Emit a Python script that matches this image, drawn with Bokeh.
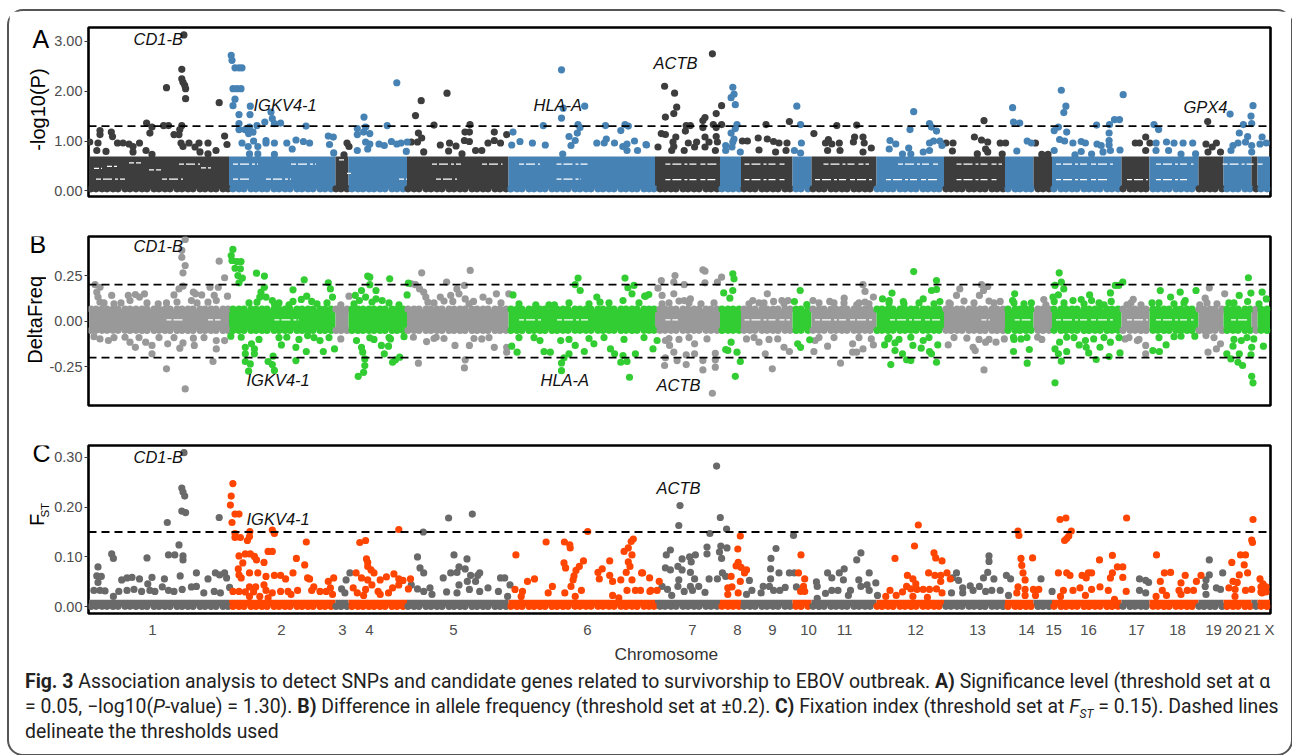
from math import pi
from bisect import bisect_right
from bokeh.plotting import figure
from bokeh.layouts import column, row
from bokeh.core.properties import value
from bokeh.models import Div, FixedTicker, Label, PrintfTickFormatter, Range1d, Span, Title
from bokeh.embed import file_html
from bokeh.resources import INLINE

# Chromosomes: cumulative position of the boundaries (arbitrary genome units)
chrom_bounds = [0,140,246.5,259.5,318,419.5,566,631,652,703.5,722.5,787.5,855,916,944.5,963,1032.5,1060.5,1109.5,1134.5,1162.5,1168.5,1181]
chrom_labels = ["1","2","3","4","5","6","7","8","9","10","11","12","13","14","15","16","17","18","19","20","21","X"]
chrom_label_pos = [63.5,192.5,253.5,280.5,364.5,498.5,603.5,648.5,683.5,719.5,755.5,826.5,888.5,937.5,964.5,999.5,1047.5,1088.5,1124.5,1144.5,1163.5,1180.5]

# Dense mass of SNPs in each panel (low, high), and SNPs seen along its rim
band_A = (0.04, 0.69)
band_B = (-0.05, 0.065)
band_C = (0.001, 0.014)
rim_A = [0.04]
rim_B = [0.066, -0.05]
rim_C = [0.001]
rim_x = [2,7,13,18,24,29,36,41,47,53,58,65,70,76,81,88,93,99,104,111,116,122,127,134,139,144,150,155,162,167,173,178,185,190,196,201,208,213,219,224,231,236,242,247,252,258,263,269,274,280,285,291,296,303,308,314,319,325,330,337,342,348,353,360,365,371,376,383,388,394,399,406,411,417,422,428,433,440,445,451,456,463,468,474,479,486,491,497,502,509,514,520,525,532,537,543,548,555,560,565,571,576,582,587,594,599,605,610,617,622,628,633,639,644,650,655,661,666,673,678,684,689,696,701,707,712,719,724,730,735,742,747,753,758,765,770,776,781,788,793,799,804,811,816,822,827,834,839,845,850,857,862,868,873,880,885,891,896,903,908,914,919,926,931,937,942,949,954,960,965,972,977,983,988,995,1000,1006,1011,1018,1023,1029,1034,1041,1046,1052,1057,1064,1069,1075,1080,1087,1092,1098,1103,1110,1115,1121,1126,1133,1138,1144,1149,1156,1161,1167,1172,1178]

# Empty stretches inside the mass: (from, to, level)
gaps_A = [(90,111,.535),(343,372,.535),(393,413.5,.535),(430,451,.535),(467.5,501,.535),(144,169,.535),(202,227,.535),
          (576.4,630.5,.535),(655.5,697,.535),(734.5,780,.535),(809,851,.535),(867.5,913,.535),(967,1025.5,.535),(1067,1104.5,.535),(1133.6,1175,.535),
          (7,36,.235),(73,94,.235),(310,318,.235),(347,368,.235),(144,160,.235),(177,202,.235),(467.5,492,.235),
          (576.4,626.3,.225),(655.5,697,.225),(726,784.4,.225),(797,851,.225),(867.5,909,.225),(967,1021,.225),(1038,1059,.225),(1067,1100,.225),
          (18,28,.49),(40,52,.56),(5,13,.45),(60,72,.42),(112,122,.46),(258,262,.35),(250,256,.62)]
gaps_B = [(77.5,94,.007),(119,131.5,.007),(185.4,210,.007),(576.4,589,.007),(655.5,701,.007),(726,784.4,.007),(801,851,.007),
          (892.5,901,.007),(925.7,942.4,.007),(967,1025.5,.007),(1038,1059,.007),(1067,1104.5,.007),(1142,1158.6,.007),(430,452,.007),(468,500,.007)]
gaps_C = []

thresholds_A = [1.30]
thresholds_B = [0.2, -0.2]
thresholds_C = [0.15]

# Panel A, -log10(P)
A_dark = [(94.9,3.13),(92.8,2.44),(77.5,2.07),(92.8,2.25),(94,2.18),(95.7,2.12),(96.6,2.05),(96.6,1.85),(130.2,1.77),(57.6,1.36),(63,1.28),(60.9,1.16),(74.6,1.31),(79.5,1.31),(92.8,1.31),(90.8,1.23),(85,1.13),(90,1.13),(11,1.21),(11,1.13),(22.3,1.18),(23.5,1.09),(0.7,.98),(9,.96),(28.5,.96),(34,.96),(40,.94),(44,.89),(50.5,.96),(92,.96),(100,.96),(110,.96),(119,.96),(94,.89),(106,.88),(135.6,1.10),(138,.93),(7.8,.81),(17,.79),(57,.81),(111,.78),(44,.78),(63,.73),(127,.81),(119,.74),
(258,.96),(260,.89),(255,.72),
(358,1.96),(332.2,1.81),(326.5,1.51),(345,1.32),(381,1.33),(329.4,1.16),(332.7,1.06),(322.3,.98),(328.5,.98),(351.3,.92),(360.5,.96),(367,.9),(376,1.18),(380.4,1.18),(375.4,1.01),(380.4,.99),(405.3,1.18),(417.7,1.13),(405.3,1.01),(399,.96),(411.5,.96),(359.6,.8),(373,.74),(386.6,.81),(392.8,.81),(334.7,.78),
(623.4,2.75),(575.6,2.10),(585.6,1.96),(587.7,1.68),(584.8,1.55),(576.4,1.48),(632.6,1.71),(627.2,1.55),(616,1.47),(613.9,1.41),(597.2,1.31),(601.4,1.31),(613.9,1.27),(624.3,1.33),(632.6,1.33),(627.2,1.27),(596.4,1.2),(572.3,1.15),(576.4,1.13),(586.8,1.08),(616,1.08),(627.2,1.09),(569,.88),(584,.98),(599.3,.96),(607.6,.98),(620,.98),(628.4,.98),(605.6,.88),(616,.88),(582.7,.81),(595.2,.81),(626.4,.81),(584.8,.89),
(677,1.33),(700.4,1.39),(669.2,1.06),(653.4,1.0),(658.4,1.0),(678.3,1.04),(684.6,.99),(690,.96),(698,.96),(670,.82),(686.6,.78),(697,.81),
(724.9,1.15),(747.8,1.31),(767.7,1.32),(739.4,1.03),(736.5,.96),(742.8,.94),(750.3,.96),(765.6,1.08),(774,1.08),(764.4,.98),(775.2,.96),(782.3,.86),(751,.81),(738.6,.81),(774,.78),
(895,1.41),(885.4,1.08),(892.5,1.02),(898.7,.98),(857,.96),(864,.96),(911.2,.96),(916.6,.96),(896.6,.84),(898.7,.78),(888.3,.74),(863.4,.8),(913.2,.74),
(946.5,.96),(959,.73),(952.8,.73),
(1056.7,1.08),(1046.3,.96),(1050.5,.96),(1060.9,.96),(1056.7,.81),
(1118.7,1.39),(1117,.94),(1127.4,.96),(1123.2,.88),(1131.5,.78),(1119,.78)]
A_blue = [(142.2,2.72),(143,2.62),(146,2.47),(150,2.47),(153,2.47),(144,2.05),(148,2.05),(152,2.05),(146,1.84),(144,1.71),(161.3,1.70),(150,1.53),(161,1.53),(182,1.58),(183.3,1.45),(150,1.35),(150,1.23),(156,1.23),(160.5,1.28),(168,1.31),(175.8,1.38),(185.4,1.35),(191.6,1.36),(217,1.30),(159.6,1.15),(164,1.18),(153,.96),(164.6,1.0),(177,1.01),(159.2,.89),(168.8,.89),(185.4,.96),(177,.96),(197.8,.96),(207,1.02),(203.2,.84),(214.4,.99),(220.6,.96),(239.3,1.10),(244.3,1.08),(240.5,.93),(244.7,.76),(160.5,.74),(168.8,.74),(185.4,.73),
(307.8,2.17),(275,1.48),(298.2,1.31),(268.3,1.25),(276.6,1.28),(268.3,1.13),(280.8,1.15),(274.6,1.18),(276.6,.98),(280.8,.94),(290,.94),(295.3,.91),(302.4,.99),(307.8,.94),(312,.96),(318.2,.98),(317.3,.79),(278.7,.84),(268.3,.81),
(472.5,2.43),(474.2,1.66),(472.5,1.46),(495.7,1.70),(454.3,1.31),(489,1.33),(491,1.27),(516.5,1.31),(536,1.33),(539.3,1.3),(531.8,1.21),(424,1.18),(480,1.09),(488.3,1.16),(486.2,1.01),(482,.91),(422.7,.92),(431,.99),(443.4,.96),(456.3,.92),(507.8,.96),(517.3,1.04),(515.2,.96),(525.5,.96),(533.8,.89),(545.5,1.0),(538,.94),(557.5,.92),(473.7,.74),(548.5,.81),(538,.81),
(643.8,2.08),(645,1.94),(642.1,1.87),(646.3,1.73),(648,1.33),(646.3,1.25),(642.1,1.16),(645,1.04),(643.8,.98),(636.7,.91),(643,.88),(651.3,.78),(636.7,.81),
(707.8,1.70),(711.6,1.33),(712.4,.96),(705.4,.81),(711.6,.76),
(824.7,1.59),(821,1.23),(840.5,1.35),(842.5,1.28),(847.5,1.2),(801,1.01),(806.8,.94),(800.2,.84),(819.7,.86),(840.5,.96),(844.6,1.0),(850.9,1.0),(853,.91),(834.2,.78),(840.5,.81),(813.5,.74),(821.8,.74),
(923.6,1.67),(924.5,1.38),(930.7,1.36),(927.8,.8),(938.2,1.0),(942.4,.96),
(972.3,2.02),(976.9,1.70),(974.8,1.57),(969.4,1.28),(965.2,1.21),(977.7,1.18),(1007.6,1.32),(1020.5,1.33),(1025.5,1.43),(1030.5,1.43),(1020.1,1.16),(1034.2,1.93),(970.6,1.03),(975.6,1.0),(983.9,.96),(992.2,.99),(996.4,.96),(1008,.94),(1012.2,.91),(1020.1,1.01),(1020.1,.92),(1031,.82),(1021.4,.81),(1014,.78),(965.2,.81),(992.2,.79),(1002.6,.74),(986,.72),
(1065,1.33),(1069.6,1.23),(1067.1,.96),(1077.5,.98),(1085,.96),(1094.1,.96),(1103.7,.96),(1067,.81),(1092,.74),(1079.6,.81),(1106.6,.74),
(1141.1,1.54),(1164,1.71),(1162,1.5),(1154.4,1.33),(1162.7,1.35),(1150.3,1.16),(1158.6,1.09),(1144,.91),(1149,.96),(1156.5,.98),(1162.7,.91),(1173.1,1.08),(1171,.94),(1177.3,.96),(1142,.81),(1162.7,.78),(557,.93)]

# Panel B, difference in allele frequency
B_grey = [(96.2,.448),(92.8,.388),(92.8,.35),(96.2,.305),(94,.265),(130.2,.329),(135.6,.238),(6.1,.2),(11,.186),(7.8,.159),(9,.132),(22.7,.141),(39.3,.141),(46.4,.146),(55.5,.15),(41,.113),(50.5,.132),(11,.104),(85,.144),(90,.177),(94,.192),(104.4,.159),(106.5,.15),(112.7,.144),(102.4,.113),(121,.186),(129.3,.186),(125.2,.141),(138.5,.137),(127.3,.113),(119,.104),(77.5,.1),(69.2,.095),
(11,-.097),(19.4,-.106),(41,-.115),(46.4,-.143),(56.7,-.115),(63,-.133),(63,-.179),(78.7,-.124),(77.5,-.261),(96.2,-.371),(94,-.119),(90.8,-.148),(104.4,-.093),(105.3,-.133),(124,-.221),(127.3,-.106),(127.3,-.152),(135.6,-.106),(36,-.088),
(251.8,-.097),(251.8,.09),(260,.137),
(332.7,.265),(381.2,.278),(357.6,.214),(326.5,.2),(322.3,.205),(330.6,.177),(334.7,.159),(336.8,.132),(338.9,.104),(351.3,.132),(361.7,.141),(367.9,.177),(375.4,.196),(370,.15),(376.2,.122),(394,.132),(407.4,.15),(419.8,.15),(363.8,.108),(384.5,.108),
(329.4,-.23),(376.2,-.212),(375.4,-.256),(380.4,-.133),(337.6,-.112),(366,-.133),(405.3,-.143),(417.7,-.143),(417.7,-.17),(324.4,-.088),(392.8,-.097),(347.2,-.088),
(613.9,.282),(616,.274),(572.3,.223),(586,.25),(595.2,.2),(569,.181),(584.8,.214),(616,.21),(628.4,.214),(632.6,.241),(573.1,.141),(584.8,.15),(601.4,.122),(573.1,.095),(595.2,.113),
(576.4,-.106),(580.6,-.133),(576.4,-.201),(575.6,-.243),(584.8,-.17),(588.1,-.216),(597.2,-.185),(597.2,-.238),(605.6,-.179),(605.6,-.124),(613.9,-.216),(613.9,-.267),(623.4,-.395),(626.3,-.176),(626.3,-.212),(626.3,-.252),(618,-.097),
(678.3,.15),(663.8,.113),(670,.1),(684.6,.108),(692.9,.113),(699.1,.113),(657.5,-.097),(670,-.115),(676.2,-.179),(683.3,-.261),(695,-.143),(700.4,-.166),(688.7,-.097),
(774,.2),(776,.163),(755.2,.126),(724,.113),(740.7,.108),(767.7,.09),(784.4,.132),(776,.104),(726.1,-.106),(724.9,-.166),(738.6,-.137),(751.5,-.23),(763.6,-.124),(763.6,-.17),(767.7,-.17),(774,-.152),(784.4,-.13),(782.3,-.097),
(870.8,.177),(892.5,.2),(898.7,.19),(894.5,.168),(867.5,.141),(890.4,.141),(911.2,.108),(861.3,.095),(859.2,-.13),(884.1,-.143),(886.2,-.161),(895,-.267),(907,-.115),(896.6,-.115),(915.3,-.097),(877.9,-.093),
(954.8,.119),(956.9,.09),(952.8,-.1),(948.6,-.088),
(1044.2,.119),(1038,.09),(1056.7,-.179),(1036,-.097),(1056.7,-.133),(1048.4,-.106),
(1120.3,.183),(1116.2,.126),(1135.7,.15),(1110.8,.09),(1119,-.17),(1127.4,-.152),(1131.5,-.124),(1117,-.079),
(15,.1),(25,.095),(32,.1),(58,.1),(88,.105),(108,.1),(345,.1),(355,.11),(380,.095),(400,.11),(412,.1),(580,.1),(590,.11),(600,.1),(612,.095),(625,.1),(660,.095),(675,.1),(695,.095),(730,.1),(745,.1),(755,.1),(770,.1),(780,.095),(860,.1),(875,.11),(885,.1),(900,.11),(905,.1),(1042,.1),(1052,.09),(1118,.1),(1128,.095),
(5,-.085),(25,-.09),(50,-.09),(70,-.09),(85,-.09),(115,-.09),(345,-.095),(355,-.095),(385,-.095),(400,-.09),(580,-.095),(590,-.1),(600,-.09),(665,-.09),(680,-.1),(730,-.09),(745,-.09),(770,-.09),(865,-.09),(890,-.1),(900,-.1),(1040,-.09),(1050,-.1),(1125,-.09)]
B_green = [(143.9,.393),(142.2,.36),(143,.333),(148,.327),(152,.327),(146,.29),(151.4,.287),(148.9,.25),(153.4,.236),(150,.21),(167.5,.263),(175.4,.247),(175.4,.186),(172,.159),(170.8,.132),(177,.132),(183.3,.113),(168,.104),(215.2,.227),(204,.172),(239.3,.21),(241.4,.177),(217.7,.137),(212.3,.119),(222.7,.108),(243.5,.132),(204,.108),(185.4,.095),
(141.8,-.082),(152.2,-.088),(156.3,-.143),(162.5,-.124),(156.3,-.179),(165.4,-.152),(156.3,-.221),(161.3,-.234),(159.6,-.274),(165.4,-.179),(184.1,-.192),(179.1,-.221),(183.3,-.238),(185.4,-.27),(206.9,-.216),(192.4,-.13),(206.9,-.143),(217.3,-.166),(234.3,-.166),(245.5,-.152),(218.6,-.079),(197.8,-.088),(231,-.106),
(278.7,.247),(280.8,.241),(300.7,.232),(280.8,.2),(287,.168),(318.1,.144),(319.4,.208),(272.5,.168),(266.3,.141),(276.6,.132),(287,.122),(293.2,.113),(270.4,.113),
(269.2,-.302),(274.6,-.28),(275.8,-.243),(275.8,-.207),(273.7,-.17),(267.5,-.106),(272.5,-.143),(303.6,-.225),(306.5,-.212),(310.7,-.197),(295.3,-.179),(299.5,-.137),(292.4,-.133),(280.8,-.091),(301.5,-.097),
(489.1,.236),(486.2,.2),(491.2,.168),(536,.236),(545,.196),(538.9,.183),(543,.15),(507.8,.132),(446.8,.09),(424,.144),(556.7,.137),(465.4,.09),(534,.113),(511,.104),
(472.5,-.271),(472.5,-.229),(475,-.201),(428.1,-.17),(422.7,-.137),(455,-.166),(461.3,-.17),(480,-.179),(495.3,-.166),(486.2,-.133),(525.6,-.179),(531.8,-.225),(538,-.221),(540.5,-.307),(534,-.188),(546.4,-.179),(451,-.106),(471.7,-.106),(504.9,-.124),(521.5,-.152),
(555.7,.137),(559.8,.146),(564,-.152),(568.1,-.106),
(643.8,.26),(645,.232),(643.8,.168),(634.7,.155),(640.9,.126),(648,-.17),(651.3,-.221),(646.3,-.302),(636.7,-.155),(642.1,-.115),(638.8,-.16),
(711.2,.168),(705.4,.108),(717.8,.091),(708.7,-.124),(711.6,-.143),(720.7,-.102),
(824.7,.272),(847.5,.223),(842.5,.168),(847.5,.174),(803,.154),(800.2,.113),(793.5,.122),(814.3,.108),(834.2,.122),(850.9,.108),
(798.9,-.097),(795.6,-.13),(806,-.119),(806,-.161),(801.8,-.238),(813.5,-.179),(817.6,-.212),(821.8,-.216),(821.8,-.088),(823.9,-.133),(834.2,-.106),(832.2,-.148),(840.5,-.166),(847.5,-.225),(848.8,-.13),(842.5,-.179),
(925.7,.15),(923.6,.113),(942.4,.1),(924.5,-.166),(940.3,-.155),(938.2,-.23),(932,-.097),(924.5,-.088),
(970.2,.265),(972.3,.214),(966,.196),(974.8,.177),(969.4,.144),(964,.132),(965.2,.108),(984,.113),(992.2,.119),(1000.6,.144),(1021.4,.155),(1026.3,.196),(1029.7,.196),(1033.8,.214),(1022.2,.108),(1002.6,.113),
(966,-.338),(972.3,-.219),(966,-.152),(969.4,-.179),(977.7,-.166),(970.6,-.115),(977.7,-.088),(990.2,-.13),(996.4,-.106),(999.7,-.174),(1007.2,-.21),(1020.1,-.194),(1031,-.174),(1011,-.143),(1021.4,-.115),(1004.7,-.097),(997.2,-.143),
(1071.3,.168),(1091.2,.159),(1107,.168),(1081.6,.132),(1096.2,.113),(1063,.1),(1077.1,-.13),(1063.8,-.161),(1070.4,-.166),(1092,-.082),(1105.8,-.082),
(1159.4,.238),(1161.9,.154),(1150.2,.141),(1173.1,.159),(1177.3,.122),(1139.9,.1),(1158.6,.108),
(1162.7,-.302),(1164,-.338),(1153.6,-.243),(1149,-.225),(1141.9,-.207),(1137.8,-.179),(1150.3,-.179),(1144,-.137),(1152.3,-.106),(1162,-.185),(1162.7,-.143),(1174.4,-.137),(1164.8,-.097),
(160,.1),(190,.1),(200,.09),(228,.095),(238,.1),(265,.095),(283,.105),(300,.1),(310,.09),(430,.095),(460,.09),(480,.1),(500,.095),(520,.1),(550,.1),(800,.1),(815,.095),(830,.1),(845,.095),(925,.1),(935,.095),(975,.1),(995,.095),(1010,.1),(1015,.09),(1070,.1),(1085,.095),(1095,.1),(1145,.1),(1170,.095),
(170,-.1),(190,-.09),(210,-.1),(225,-.09),(240,-.09),(285,-.1),(300,-.09),(315,-.085),(430,-.09),(445,-.09),(480,-.1),(500,-.095),(515,-.09),(535,-.1),(555,-.09),(800,-.09),(810,-.1),(840,-.09),(925,-.1),(938,-.09),(985,-.09),(1015,-.09),(1030,-.09),(1070,-.09),(1085,-.085),(1145,-.1),(1158,-.09)]

# Panel C, fixation index
C_grey = [(95,.309),(92.8,.238),(94,.23),(95.7,.222),(92.8,.192),(96.6,.189),(78.3,.169),(130.2,.179),(90,.124),(79.5,.104),(85.8,.104),(94,.102),(94,.094),(22.7,.106),(24.4,.097),(58,.098),(9,.08),
(7.8,.062),(12.3,.061),(9,.049),(4.9,.033),(11,.033),(16,.032),(24.4,.021),(32.7,.054),(38,.058),(43,.059),(50.5,.056),(63,.059),(58.8,.046),(75.4,.056),(91.2,.062),(107.4,.068),(29.8,.031),(38,.033),(45,.035),(52.6,.031),(60.9,.033),(65.9,.031),(73.3,.04),(79.5,.033),(85,.031),(93.2,.035),(102.4,.04),(107.4,.041),(114.8,.028),(119,.056),(126.4,.068),(130.6,.064),(135.6,.068),(137.6,.058),(125.2,.031),(131.4,.028),(140.6,.039),
(252.6,.036),(257.1,.054),(260.9,.068),(255.9,.028),
(383.3,.186),(359.6,.178),(334.3,.15),(328.5,.1),(365,.104),(378,.096),(331,.078),(334.7,.068),(370,.08),(376.2,.076),(354.2,.058),(361.7,.068),(368,.069),(381.6,.063),(390.7,.068),(388.7,.063),(322.3,.044),(328.5,.036),(334.7,.031),(341,.038),(343,.025),(411.5,.058),(415.7,.058),(421,.044),(370,.044),(378.3,.051),(386.6,.051),(380.4,.035),(368,.028),(399,.038),(409.4,.031),(357.6,.03),(390.7,.031),(418.6,.021),
(627.6,.282),(591,.203),(589.8,.163),(631.3,.179),(637.6,.156),(620.9,.147),(631.8,.122),(638,.118),(618,.12),(618,.106),(630.5,.11),(632.6,.097),(581.4,.114),(577.3,.104),(593.1,.096),(600.6,.1),(606.4,.104),(602.2,.09),(576.4,.078),(581.4,.074),(588.9,.081),(593.1,.074),(601.4,.069),(605.6,.056),(589.8,.054),(620.1,.056),(628.4,.056),(633.4,.068),(636.7,.061),(573.1,.041),(578.5,.035),(588.9,.041),(601.4,.041),(609.7,.041),(616,.029),(603.5,.033),(595.2,.031),(582.7,.023),
(704.5,.143),(687,.117),(682,.097),(681.6,.076),(690,.068),(681.6,.056),(700.4,.068),(705.4,.068),(660.4,.053),(674.2,.041),(680.4,.041),(662.9,.033),(684.6,.033),(690.8,.033),(696.2,.039),(707.4,.04),(657.5,.025),(672.1,.028),
(771.9,.108),(767.7,.094),(755.2,.076),(738.6,.068),(750.3,.068),(780.2,.068),(742.8,.058),(754.4,.054),(727.4,.05),(728.2,.041),(769.8,.054),(771.9,.041),(778.1,.044),(786.8,.048),(780.2,.033),(742.8,.033),(749,.033),(736.5,.027),(761.5,.033),(759.4,.023),(788.5,.023),(728.2,.017),
(900,.102),(900,.091),(898.7,.069),(894.5,.058),(904.9,.056),(917.4,.063),(921.6,.056),(867.5,.068),(863.4,.058),(869.6,.053),(873.7,.038),(881.2,.042),(890.4,.041),(884.1,.033),(896.6,.031),(902.8,.033),(911.2,.033),(862.5,.028),(919.5,.023),(873.7,.028),
(952,.056),(963.1,.031),
(1050.5,.056),(1056.7,.053),(1059.6,.049),(1050.5,.033),(1056.7,.028),
(1120.3,.094),(1120.3,.064),(1133.7,.068),(1117,.054),(1116.2,.041),(1127.4,.038),(1131.5,.035),(1117,.025)]
C_orange = [(143.9,.247),(142.2,.222),(141.4,.204),(146,.186),(150,.186),(143,.169),(160.9,.151),(183.3,.154),(185.4,.147),(146,.147),(146,.139),(151.4,.139),(158.4,.133),(160.5,.141),(217.3,.13),
(150,.102),(156.3,.106),(161.3,.106),(165.4,.101),(167.5,.094),(179.1,.111),(183.3,.111),(207.4,.097),(215.7,.084),(153.8,.088),(175,.089),
(149.3,.076),(150,.064),(152.2,.058),(160.5,.068),(168.8,.068),(177,.061),(185.4,.063),(191.6,.063),(196.6,.056),(204,.068),(218.6,.058),(220.6,.056),(224.8,.04),(222.7,.033),(231,.031),(237.2,.031),(239.3,.051),(244.7,.058),(241.4,.038),(243.5,.025),
(160.5,.04),(166.7,.04),(175,.044),(143.9,.031),(150,.031),(156.3,.03),(164.6,.03),(177,.033),(183.3,.028),(191.6,.031),(199,.031),(208.6,.033),(202,.025),(160.5,.021),(170.8,.021),(179.1,.018),
(270.8,.129),(276.6,.133),(309.8,.155),(277.5,.096),(278.7,.089),(278.7,.081),(282,.074),(285,.068),(267.1,.068),(272.5,.058),(278.7,.054),(291.2,.054),(297.4,.06),(304.9,.066),(309.8,.056),(314,.053),(321.5,.056),(319.4,.036),(264.2,.038),(268.3,.028),(276.6,.035),(282.9,.044),(289.1,.031),(299.5,.028),(303.6,.038),(309.8,.044),(274.6,.023),(291.2,.025),
(426.9,.104),(457.1,.13),(475.4,.13),(498.7,.151),(480.8,.124),(481.2,.118),(494.5,.092),(544.3,.136),(542.2,.131),(539.3,.118),(535.1,.111),(543,.104),(539.3,.09),(541,.081),(475,.088),(476.6,.078),(490.3,.081),(487,.073),(485,.062),(484.1,.054),(482,.041),(492.4,.033),(486.2,.021),(475.8,.028),(463.4,.041),(459.2,.028),(438.5,.051),(445.5,.056),(426,.035),(433.5,.031),(432.2,.021),(509,.069),(513.2,.076),(510.3,.056),(520.7,.092),(520.7,.063),(523.6,.051),(531.8,.054),(537.2,.069),(552.6,.068),(543,.054),(538,.033),(546.4,.033),(523.6,.023),(529.8,.018),(560.9,.031),
(553.6,.068),(560.6,.058),(570.2,.051),(561.9,.033),(568.1,.033),(551.5,.033),
(651.3,.142),(648.8,.116),(649.2,.089),(647.1,.082),(652.1,.079),(657.5,.074),(642.1,.061),(651.3,.051),(655.5,.068),(638.8,.038),(643,.04),(649.2,.028),(638.8,.025),
(712,.104),(709.5,.068),(715.7,.056),(714.5,.041),(711.6,.031),(715.7,.031),
(829.3,.164),(825.5,.122),(806,.097),(845,.108),(846.7,.098),(853,.092),(818.4,.063),(823.9,.056),(826.8,.046),(839.6,.068),(845.9,.063),(851.7,.063),(858,.068),(851.7,.051),(861.3,.056),(817.6,.041),(821.8,.036),(828,.035),(834.2,.035),(840.5,.035),(847.5,.036),(853,.028),(801,.033),(796.8,.021),(807.2,.023),(813.5,.03),(823.9,.021),(838.4,.019),
(929,.152),(929.9,.143),(932,.097),(943.6,.098),(932.8,.083),(934,.068),(936.1,.054),(929,.04),(936.1,.035),(944.4,.035),(949.8,.035),(927.8,.028),(936.1,.023),(946.5,.023),
(971,.175),(976.9,.178),(982.3,.152),(979.8,.142),(975.6,.133),(977.7,.137),(1037.6,.178),(1010.5,.094),(1023.4,.103),(969.4,.068),(977.7,.068),(981,.063),(993.1,.063),(999.3,.068),(1002.6,.068),(997.2,.058),(1023.4,.068),(1028.4,.08),(1033.8,.08),(1033.8,.059),(1021.4,.058),(974.4,.033),(984,.033),(991,.038),(1002.6,.035),(1011,.04),(1019.3,.033),(1037.2,.031),(971.5,.021),(996.4,.023),(1025.5,.015),
(1067.5,.104),(1075.4,.068),(1081.6,.069),(1071.3,.051),(1073.3,.033),(1096.2,.063),(1092,.048),(1107.4,.051),(1112,.063),(1090,.033),(1098.3,.033),(1104.5,.033),(1092,.025),(1067.1,.021),(1077.5,.023),
(1142.8,.089),(1151.5,.104),(1156.5,.104),(1155.2,.084),(1150.3,.064),(1144,.051),(1148.2,.049),(1158.6,.068),(1164,.175),(1162.7,.134),(1163.5,.129),(1139.9,.038),(1146.1,.035),(1156.5,.033),(1162.7,.035),(1171,.056),(1174,.046),(1175.2,.036),(1173,.028),(1146,.021),
(1172,.04),(1177,.04),(1172,.03),(1177,.03)]

# Gene names: (name, position, value)
genes_A = [("CD1-B",44.5,3.05),("IGKV4-1",164.5,1.73),("HLA-A",444.5,1.73),("ACTB",564.5,2.56),("GPX4",1094.5,1.69)]
genes_B = [("CD1-B",44.5,.41),("IGKV4-1",157.5,-.325),("HLA-A",451.5,-.325),("ACTB",567.5,-.352)]
genes_C = [("CD1-B",44.5,.30),("IGKV4-1",157.5,.176),("ACTB",567.5,.238)]

FONT = "Liberation Sans"
x_lo, x_hi = -0.5, 1181.5
DOT = 7.2


def strip(width, height):
    """Narrow figure left of a panel that carries its letter and axis title."""
    s = figure(width=width, height=height, output_backend="svg", toolbar_location=None,
               x_range=Range1d(0, width), y_range=Range1d(height, 0),
               x_axis_location=None, y_axis_location=None,
               min_border_left=0, min_border_right=0, min_border_top=0, min_border_bottom=0)
    s.grid.visible = False
    s.outline_line_color = None
    return s


def side_text(s, x, y, text, size, angle=0.0, align="left"):
    s.text([x], [y], text=[text], angle=angle, text_font=value(FONT), text_font_size=value(size),
           text_color="black", text_align=align, text_baseline="middle")


def panel(strip_w, y_lo, y_hi, ticks, even_col, odd_col, band, rim, gaps, even_pts, odd_pts,
          thresholds, genes, top=21, bottom=19):
    p = figure(width=1282 - strip_w, height=top + 169 + bottom, output_backend="svg", toolbar_location=None,
               x_range=Range1d(x_lo, x_hi), y_range=Range1d(y_lo, y_hi),
               min_border_left=79 - strip_w, min_border_right=21, min_border_top=top, min_border_bottom=bottom)
    p.grid.visible = False
    p.outline_line_color = "black"
    p.outline_line_width = 2.6
    p.xaxis.visible = False
    ax = p.yaxis[0]
    ax.ticker = FixedTicker(ticks=ticks)
    ax.formatter = PrintfTickFormatter(format="%.2f")
    ax.axis_line_color = None
    ax.minor_tick_line_color = None
    ax.major_tick_line_color = "#333333"
    ax.major_tick_out = 4
    ax.major_tick_in = 0
    ax.major_label_text_font = FONT
    ax.major_label_text_font_size = "14.5px"
    ax.major_label_text_color = "#4d4d4d"
    ax.major_label_standoff = 2

    def col(i):
        return odd_col if i % 2 else even_col

    for i in range(len(chrom_labels)):
        p.quad(left=chrom_bounds[i], right=chrom_bounds[i + 1], bottom=band[0], top=band[1],
               fill_color=col(i), line_color=None)
    rim_cols = [col(bisect_right(chrom_bounds, x) - 1) for x in rim_x]
    for level in rim:
        p.scatter(rim_x, [level] * len(rim_x), size=DOT, fill_color=rim_cols, line_color=None)
    if gaps:
        p.segment([g[0] for g in gaps], [g[2] for g in gaps], [g[1] for g in gaps], [g[2] for g in gaps],
                  line_color="white", line_width=1.3, line_dash="5 2 9 3 3 2 7 4")
    p.scatter([q[0] for q in even_pts], [q[1] for q in even_pts], size=DOT, fill_color=even_col, line_color=None)
    p.scatter([q[0] for q in odd_pts], [q[1] for q in odd_pts], size=DOT, fill_color=odd_col, line_color=None)
    for t in thresholds:
        p.add_layout(Span(location=t, dimension="width", line_color="black", line_width=1.8, line_dash="8 5"))
    for name, gx, gy in genes:
        p.add_layout(Label(x=gx, y=gy, text=name, text_font=FONT, text_font_size="16.5px",
                           text_font_style="italic", text_color="#111111", text_baseline="middle"))
    return p


pA = panel(42, -0.114, 3.279, [0, 1, 2, 3], "#3d3d3d", "#4682b4", band_A, rim_A, gaps_A,
           A_dark, A_blue, thresholds_A, genes_A, top=16)
pB = panel(37, -0.462, 0.464, [-0.25, 0, 0.25], "#999999", "#32cd32", band_B, rim_B, gaps_B,
           B_grey, B_green, thresholds_B, genes_B)
pC = panel(42, -0.0133, 0.3233, [0, 0.1, 0.2, 0.3], "#696969", "#ff4500", band_C, rim_C, gaps_C,
           C_grey, C_orange, thresholds_C, genes_C, bottom=50)
pC.xaxis.visible = True
xa = pC.xaxis[0]
xa.ticker = FixedTicker(ticks=chrom_label_pos)
xa.major_label_overrides = {pos: lab for pos, lab in zip(chrom_label_pos, chrom_labels)}
xa.axis_line_color = None
xa.major_tick_line_color = None
xa.minor_tick_line_color = None
xa.major_label_text_font = FONT
xa.major_label_text_font_size = "15px"
xa.major_label_text_color = "#4d4d4d"
xa.major_label_standoff = 1
pC.add_layout(Title(text="Chromosome", align="left", offset=526, text_font=FONT, text_font_size="17.3px",
                    text_font_style="normal", text_color="#333333", standoff=2), "below")

sA = strip(42, pA.height)
side_text(sA, 23, 14, "A", "25px")
side_text(sA, 28, 99, "-log10(P)", "20px", angle=pi / 2, align="center")
sB = strip(37, pB.height)
side_text(sB, 20, 9, "B", "25px")
side_text(sB, 25, 103, "DeltaFreq", "20px", angle=pi / 2, align="center")
sC = strip(42, pC.height)
side_text(sC, 23, 11, "C", "25px")
side_text(sC, 27, 115, "F", "20px", angle=pi / 2)
side_text(sC, 35.5, 103, "ST", "11.5px", angle=pi / 2)

caption = Div(width=1260, height=85, margin=(5, 0, 0, 16), text=(
    "<b>Fig. 3</b> Association analysis to detect SNPs and candidate genes related to survivorship to EBOV outbreak. "
    "<b>A)</b> Significance level (threshold set at \u03b1<br>"
    "= 0.05, \u2212log10(<i>P</i>-value) = 1.30). <b>B)</b> Difference in allele frequency (threshold set at \u00b10.2). "
    "<b>C)</b> Fixation index (threshold set at <i>F<sub style='font-size:12px;line-height:0'>ST</sub></i> = 0.15). Dashed lines<br>"
    "delineate the thresholds used"),
    styles={"font-family": "Roboto", "font-size": "19.4px", "line-height": "25px", "color": "#222222",
            "white-space": "nowrap"})

page = column(row(sA, pA, spacing=0), row(sB, pB, spacing=0), row(sC, pC, spacing=0), caption, spacing=0,
              margin=(11, 1, 1, 9), styles={"outline": "2px solid #555555", "border-radius": "14px"})
open("out.html", "w").write(file_html(page, INLINE))
